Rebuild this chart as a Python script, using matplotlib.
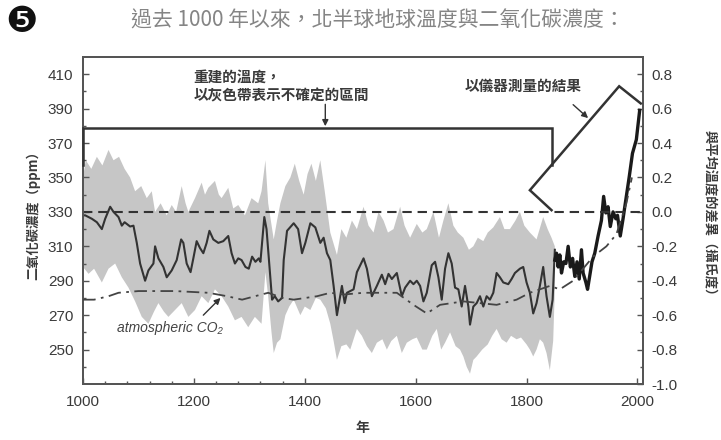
import numpy as np
import matplotlib
matplotlib.use("Agg")
import matplotlib.pyplot as plt

# ---------------- data ----------------
recon_years = [1000, 1004, 1016, 1025, 1034, 1040, 1049, 1055, 1064, 1070, 1075, 1085, 1091, 1097,
               1103, 1112, 1118, 1127, 1130, 1136, 1145, 1151, 1160, 1169, 1177, 1181, 1187, 1194,
               1199, 1205, 1211, 1217, 1223, 1228, 1235, 1244, 1253, 1262, 1268, 1274, 1280, 1286,
               1293, 1299, 1305, 1311, 1317, 1320, 1327, 1331, 1341, 1346, 1352, 1359, 1362, 1368,
               1380, 1388, 1395, 1401, 1410, 1419, 1428, 1434, 1440, 1446, 1452, 1458, 1467, 1472,
               1476, 1488, 1494, 1506, 1512, 1521, 1530, 1539, 1545, 1551, 1557, 1566, 1575, 1581,
               1590, 1596, 1602, 1608, 1614, 1620, 1629, 1635, 1641, 1647, 1653, 1659, 1665, 1671,
               1677, 1683, 1689, 1695, 1698, 1704, 1710, 1716, 1722, 1728, 1734, 1740, 1746, 1752,
               1758, 1767, 1773, 1779, 1788, 1794, 1800, 1806, 1812, 1818, 1824, 1830, 1836, 1842,
               1847, 1851]
recon_temp = [-0.02, -0.02, -0.04, -0.06, -0.10, -0.04, 0.03, 0.00, -0.03, -0.08, -0.06, -0.085, -0.08, -0.18,
              -0.30, -0.40, -0.34, -0.30, -0.20, -0.27, -0.32, -0.38, -0.34, -0.28, -0.16, -0.18, -0.30, -0.35,
              -0.27, -0.17, -0.21, -0.24, -0.18, -0.11, -0.16, -0.18, -0.17, -0.14, -0.24, -0.30, -0.27, -0.28,
              -0.32, -0.33, -0.26, -0.29, -0.27, -0.29, -0.03, -0.10, -0.51, -0.49, -0.52, -0.50, -0.28, -0.11,
              -0.066, -0.10, -0.24, -0.18, -0.066, -0.09, -0.18, -0.15, -0.24, -0.28, -0.43, -0.60, -0.43, -0.53,
              -0.47, -0.45, -0.35, -0.27, -0.33, -0.49, -0.43, -0.365, -0.42, -0.36, -0.39, -0.355, -0.49, -0.44,
              -0.40, -0.42, -0.40, -0.43, -0.52, -0.47, -0.31, -0.29, -0.38, -0.51, -0.33, -0.24, -0.30, -0.44,
              -0.45, -0.55, -0.43, -0.55, -0.655, -0.55, -0.53, -0.49, -0.55, -0.49, -0.51, -0.47, -0.355, -0.38,
              -0.41, -0.42, -0.39, -0.355, -0.33, -0.32, -0.41, -0.47, -0.59, -0.53, -0.43, -0.32, -0.49, -0.61,
              -0.51, -0.22]

inst_years = [1851, 1854, 1857, 1860, 1863, 1867, 1871, 1875, 1879, 1883, 1887, 1891, 1895, 1899,
              1902, 1907, 1910, 1914, 1918, 1923, 1929, 1935, 1939, 1943, 1947, 1951, 1956, 1961,
              1964, 1969, 1974, 1979, 1985, 1991, 1998, 2004]
inst_temp = [-0.28, -0.24, -0.32, -0.25, -0.355, -0.29, -0.30, -0.20, -0.32, -0.27, -0.375, -0.29, -0.39, -0.22,
             -0.355, -0.41, -0.45, -0.37, -0.29, -0.24, -0.14, -0.05, 0.09, -0.006, 0.03, -0.085, 0.00, -0.04,
             -0.02, -0.14, -0.04, 0.07, 0.20, 0.34, 0.42, 0.59]

band_up_years = [1000, 1005, 1015, 1025, 1035, 1046, 1055, 1065, 1075, 1085, 1094, 1105, 1115, 1124,
                 1130, 1140, 1151, 1160, 1168, 1178, 1185, 1190, 1202, 1214, 1220, 1226, 1238, 1245,
                 1250, 1262, 1271, 1280, 1292, 1304, 1316, 1322, 1329, 1334, 1344, 1350, 1356, 1365,
                 1374, 1382, 1390, 1398, 1405, 1412, 1420, 1428, 1436, 1446, 1458, 1466, 1475, 1485,
                 1494, 1506, 1515, 1524, 1533, 1542, 1550, 1560, 1572, 1580, 1590, 1602, 1612, 1620,
                 1632, 1642, 1650, 1659, 1668, 1676, 1686, 1696, 1704, 1712, 1722, 1730, 1740, 1752,
                 1760, 1770, 1780, 1788, 1796, 1806, 1818, 1830, 1838, 1845, 1851]
band_up = [0.20, 0.30, 0.25, 0.32, 0.27, 0.36, 0.30, 0.32, 0.25, 0.20, 0.12, 0.15, 0.08, 0.12,
           0.00, 0.05, -0.02, 0.04, 0.00, 0.15, 0.05, 0.00, 0.08, 0.17, 0.10, 0.14, 0.18, 0.10,
           0.08, 0.14, 0.02, 0.04, -0.02, 0.08, 0.05, 0.12, 0.30, 0.05, -0.16, -0.05, 0.05, 0.15,
           0.20, 0.28, 0.18, 0.10, 0.22, 0.28, 0.18, 0.30, 0.12, -0.12, -0.25, -0.10, -0.15, -0.05,
           -0.10, 0.03, -0.08, -0.12, 0.00, -0.05, -0.12, -0.10, 0.03, -0.08, -0.15, -0.07, -0.12, -0.10,
           0.00, -0.15, -0.05, 0.05, -0.08, -0.12, -0.15, -0.22, -0.20, -0.15, -0.17, -0.12, -0.09, -0.03,
           -0.10, -0.10, -0.05, 0.00, -0.08, -0.12, -0.16, -0.03, -0.10, -0.15, -0.20]

band_low_years = [1000, 1010, 1020, 1034, 1046, 1058, 1070, 1082, 1094, 1106, 1118, 1128, 1136, 1146,
                  1154, 1166, 1178, 1190, 1202, 1214, 1226, 1238, 1250, 1262, 1274, 1286, 1298, 1310,
                  1322, 1329, 1334, 1340, 1344, 1350, 1356, 1365, 1372, 1380, 1392, 1400, 1410, 1420,
                  1428, 1438, 1446, 1452, 1458, 1466, 1475, 1482, 1494, 1503, 1512, 1521, 1530, 1540,
                  1548, 1556, 1566, 1575, 1584, 1594, 1602, 1612, 1620, 1630, 1638, 1646, 1653, 1662,
                  1672, 1680, 1686, 1692, 1698, 1704, 1710, 1720, 1730, 1738, 1746, 1755, 1764, 1772,
                  1782, 1790, 1800, 1806, 1812, 1818, 1824, 1830, 1836, 1842, 1848, 1851]
band_low = [-0.32, -0.36, -0.33, -0.41, -0.33, -0.30, -0.38, -0.44, -0.52, -0.61, -0.65, -0.58, -0.53, -0.58,
            -0.61, -0.57, -0.53, -0.61, -0.57, -0.49, -0.53, -0.45, -0.49, -0.55, -0.63, -0.61, -0.67, -0.61,
            -0.65, -0.35, -0.49, -0.70, -0.82, -0.76, -0.74, -0.60, -0.55, -0.51, -0.60, -0.55, -0.57, -0.50,
            -0.51, -0.56, -0.65, -0.75, -0.86, -0.78, -0.77, -0.80, -0.68, -0.72, -0.78, -0.82, -0.76, -0.74,
            -0.80, -0.75, -0.72, -0.82, -0.76, -0.74, -0.73, -0.80, -0.80, -0.72, -0.68, -0.80, -0.76, -0.70,
            -0.78, -0.80, -0.84, -0.90, -0.94, -0.86, -0.84, -0.80, -0.77, -0.72, -0.68, -0.74, -0.76, -0.72,
            -0.74, -0.73, -0.77, -0.80, -0.84, -0.80, -0.74, -0.76, -0.82, -0.92, -0.75, -0.45]

co2_years = [1000, 1020, 1046, 1064, 1100, 1166, 1226, 1260, 1287, 1310, 1334, 1360, 1380, 1422,
             1446, 1470, 1506, 1566, 1596, 1620, 1644, 1686, 1746, 1782, 1806, 1842, 1860, 1884,
             1920, 1944, 1962, 1980, 1990]
co2_ppm = [279, 279, 281, 283, 284, 284, 283, 281, 279, 281, 283, 280, 279, 281,
           283, 282, 283, 283, 276, 271, 276, 278, 276, 279, 283, 287, 285, 290,
           304, 310, 317, 335, 350]

year_ticks = [1000, 1200, 1400, 1600, 1800, 2000]
year_minor = [1040, 1080, 1120, 1160, 1240, 1280, 1320, 1360]
ppm_ticks = [250, 270, 290, 310, 330, 350, 370, 390, 410]
ppm_minor = [240, 260, 280, 300, 320, 340, 360, 380, 400]
temp_ticks = [-1.0, -0.8, -0.6, -0.4, -0.2, 0.0, 0.2, 0.4, 0.6, 0.8]
temp_minor = [-0.9, -0.7, -0.5, -0.3, -0.1, 0.1, 0.3, 0.5, 0.7]

title = "過去 1000 年以來，北半球地球溫度與二氧化碳濃度："
left_label = "二氧化碳濃度（ppm）"
right_label = "與平均溫度的差異（攝氏度）"
x_label = "年"

# ---------------- style ----------------
CJK = ["Noto Sans CJK TC", "DejaVu Sans"]
NUM = ["Liberation Sans", "DejaVu Sans"]
plt.rcParams["font.family"] = NUM
DARK = "#3a3a3a"
SPINE = "#555555"

fig = plt.figure(figsize=(7.21, 4.40), dpi=100)
fig.patch.set_facecolor("white")
ax = fig.add_axes([83 / 721, 1 - 384 / 440, (643 - 83) / 721, (384 - 57) / 440])
ax2 = ax.twinx()
ax.set_zorder(ax2.get_zorder() + 1)
ax.patch.set_visible(False)

ax.set_xlim(1000, 2010)
ax.set_ylim(230, 420)
ax2.set_ylim(-1.0, 0.9)

# uncertainty band + temperature (right axis)
ax2.fill(np.concatenate([band_up_years, band_low_years[::-1]]),
         np.concatenate([band_up, band_low[::-1]]),
         color="#c6c6c6", lw=0, zorder=1)
ax2.plot(recon_years, recon_temp, color="#333333", lw=1.5, zorder=3)
ax2.plot(inst_years, inst_temp, color="#1a1a1a", lw=2.4, zorder=4)

# CO2 (left axis)
ax.plot(co2_years, co2_ppm, color="#444444", lw=1.3, dashes=(7, 3, 1.5, 3), zorder=3)
ax.axhline(330, color="#333333", lw=1.5, dashes=(4.5, 2.8), zorder=2)

# ticks
for a in (ax, ax2):
    for s in a.spines.values():
        s.set_color(SPINE)
        s.set_linewidth(1.4)
ax.set_xticks(year_ticks)
ax.set_xticks(year_minor, minor=True)
ax.set_yticks(ppm_ticks)
ax.set_yticks(ppm_minor, minor=True)
ax2.set_yticks(temp_ticks)
ax2.set_yticks(temp_minor, minor=True)
ax2.set_yticklabels([f"{t:.1f}" for t in temp_ticks])
ax.tick_params(axis="both", which="major", direction="in", length=4.5, width=1.0,
               color=SPINE, labelsize=11, labelcolor=DARK)
ax.tick_params(axis="both", which="minor", direction="in", length=2.5, width=1.0, color=SPINE)
ax.tick_params(axis="x", pad=8)
ax.tick_params(axis="y", pad=7)
ax2.tick_params(axis="y", which="major", direction="in", length=4.5, width=1.0,
                color=SPINE, labelsize=11, labelcolor=DARK, pad=6)
ax2.tick_params(axis="y", which="minor", direction="in", length=2.5, width=1.0, color=SPINE)

# axis labels
fig.text(33 / 721, 1 - 212 / 440, left_label, rotation=90, ha="center", va="center",
         fontsize=9.5, family=CJK, color=DARK, fontweight="bold")
fig.text(709 / 721, 1 - 216 / 440, right_label, rotation=270, ha="center", va="center",
         fontsize=9.5, family=CJK, color=DARK, fontweight="bold")
fig.text(362 / 721, 1 - 428 / 440, x_label, ha="center", va="center",
         fontsize=10, family=CJK, color=DARK, fontweight="bold")

# title and badge
fig.text(378 / 721, 1 - 21 / 440, title, ha="center", va="center", fontsize=15,
         family=CJK, color="#858585", fontweight="light")
fig.text(21 / 721, 1 - 22 / 440, "\u277a", ha="center", va="center", fontsize=26,
         family=["DejaVu Sans"], color="#111111")

# annotations (left-axis data coordinates)
ann = dict(color="#333333", lw=1.8, clip_on=False, zorder=6, solid_joinstyle="miter")
ax.plot([1000, 1000, 1845, 1845], [357, 379, 379, 357.4], **ann)
ax.plot([1845, 1806, 1967, 2006], [331, 342.6, 403, 393], **ann)

ax.text(1199, 408.6, "重建的溫度，", ha="left", va="center", fontsize=10.5,
        family=CJK, color=DARK, fontweight="bold")
ax.text(1199, 397.9, "以灰色帶表示不確定的區間", ha="left", va="center", fontsize=10.5,
        family=CJK, color=DARK, fontweight="bold")
ax.annotate("", xy=(1437, 379.8), xytext=(1437, 392.5),
            arrowprops=dict(arrowstyle="-|>", color="#333333", lw=1.0, mutation_scale=9,
                            shrinkA=0, shrinkB=0))

ax.text(1794, 403.2, "以儀器測量的結果", ha="center", va="center", fontsize=10.5,
        family=CJK, color=DARK, fontweight="bold")
ax.annotate("", xy=(1911, 384.5), xytext=(1884, 392.3),
            arrowprops=dict(arrowstyle="-|>", color="#333333", lw=1.0, mutation_scale=9,
                            shrinkA=0, shrinkB=0))

ax.text(1062, 262.5, "atmospheric CO\u2082", ha="left", va="center", fontsize=10,
        style="italic", color="#444444", family=NUM)
ax.annotate("", xy=(1248, 280), xytext=(1217, 270),
            arrowprops=dict(arrowstyle="-|>", color="#333333", lw=1.0, mutation_scale=9,
                            shrinkA=0, shrinkB=0))

fig.savefig("out.png", dpi=100, facecolor="white")
